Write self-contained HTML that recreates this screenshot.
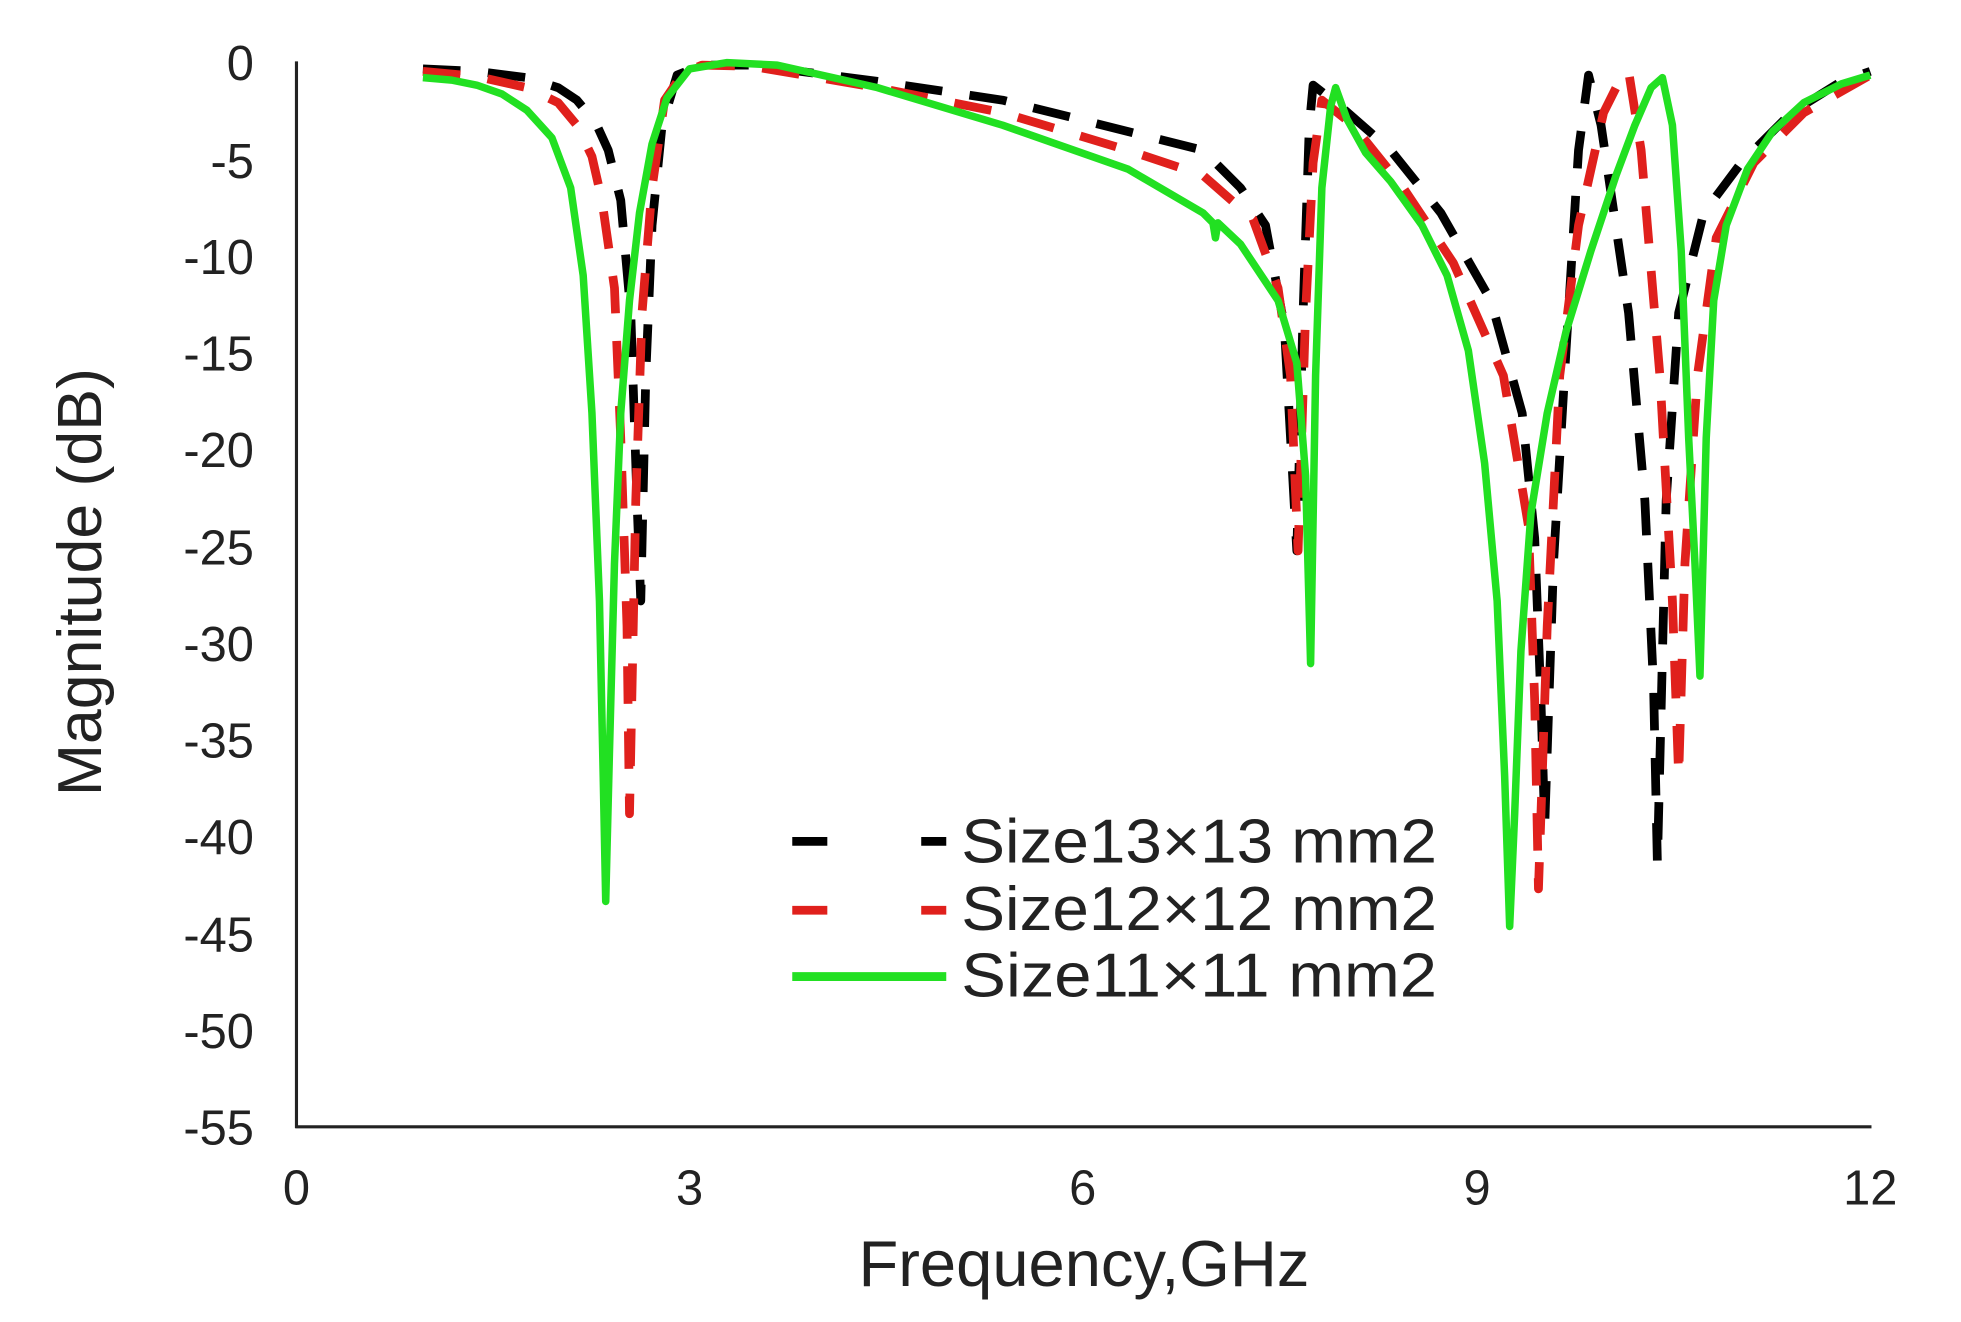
<!DOCTYPE html>
<html><head><meta charset="utf-8"><style>html,body{margin:0;padding:0;background:#fff}svg{display:block}</style></head>
<body>
<svg width="1961" height="1322" viewBox="0 0 1961 1322" xmlns="http://www.w3.org/2000/svg">
<rect width="1961" height="1322" fill="#fff"/>
<g transform="matrix(1.252,0,0,1.252,1,0)" font-family="Liberation Sans, Arial, sans-serif" fill="#222">
<line x1="236" y1="49" x2="236" y2="901" stroke="#222" stroke-width="2.5"/>
<line x1="235" y1="900" x2="1494" y2="900" stroke="#222" stroke-width="2.5"/>
<g font-size="39" text-anchor="end">
<text x="202" y="64">0</text><text x="202" y="142">-5</text><text x="202" y="219">-10</text>
<text x="202" y="296">-15</text><text x="202" y="373">-20</text><text x="202" y="451">-25</text>
<text x="202" y="528">-30</text><text x="202" y="605">-35</text><text x="202" y="682">-40</text>
<text x="202" y="760">-45</text><text x="202" y="837">-50</text><text x="202" y="914">-55</text>
</g>
<g font-size="39" text-anchor="middle">
<text x="236" y="962">0</text><text x="550" y="962">3</text><text x="864" y="962">6</text>
<text x="1179" y="962">9</text><text x="1493" y="962">12</text>
</g>
<text x="865" y="1027" font-size="52" text-anchor="middle">Frequency,GHz</text>
<text transform="translate(80,465) rotate(-90)" font-size="50" text-anchor="middle">Magnitude (dB)</text>
<g fill="none" stroke-linejoin="round">
<polyline stroke="#000" stroke-width="7" stroke-dasharray="30,22" points="337,55 380,57 420,62 445,70 460,80 475,98 485,120 495,160 503,250 508,400 511,480 515,300 520,180 528,100 540,60 560,52 600,52 700,65 800,80 900,105 960,120 990,150 1010,180 1025,260 1030,350 1035,440 1040,250 1045,100 1048,68 1070,85 1110,120 1150,170 1190,240 1215,330 1225,430 1230,560 1233,660 1240,450 1250,280 1260,120 1268,60 1278,100 1300,250 1313,400 1320,550 1323,690 1330,400 1340,250 1360,170 1390,130 1430,90 1470,65 1493,57"/>
<polyline stroke="#e0201c" stroke-width="7" stroke-dasharray="30,22" points="337,57 380,61 420,70 445,82 460,100 472,125 480,160 490,230 495,350 500,500 502,650 507,400 512,250 520,150 530,80 545,58 560,52 600,53 700,70 800,90 900,120 960,140 1000,175 1020,230 1030,300 1036,440 1042,250 1048,130 1055,80 1080,100 1120,150 1160,210 1200,300 1220,420 1225,560 1228,710 1235,500 1245,300 1260,180 1280,90 1295,60 1300,57 1310,120 1325,300 1335,480 1340,620 1345,450 1355,300 1370,190 1400,130 1440,90 1493,60"/>
<polyline stroke="#22e022" stroke-width="6" points="337,62 360,64 380,68 400,75 420,88 440,110 455,150 465,220 472,330 478,480 481,620 483,720 486,600 490,450 495,330 502,240 510,170 520,115 532,78 550,55 580,50 620,52 700,70 800,100 900,135 960,170 968,178 970,190 972,178 990,195 1020,240 1035,290 1042,380 1046,530 1050,300 1055,150 1062,85 1066,70 1075,95 1090,122 1110,145 1135,180 1155,220 1172,280 1185,370 1195,480 1201,620 1205,740 1209,650 1214,520 1222,410 1235,330 1250,265 1270,200 1290,140 1305,100 1318,70 1327,62 1335,100 1342,200 1348,350 1353,450 1357,540 1362,350 1368,240 1378,180 1395,135 1415,105 1440,82 1470,67 1493,60"/>
<line x1="632" y1="672" x2="755" y2="672" stroke="#000" stroke-width="7" stroke-dasharray="28,75"/>
<line x1="632" y1="727" x2="755" y2="727" stroke="#e0201c" stroke-width="7" stroke-dasharray="28,75"/>
<line x1="632" y1="780" x2="755" y2="780" stroke="#22e022" stroke-width="7"/>
</g>
<g font-size="50">
<text x="767" y="689" textLength="380" lengthAdjust="spacingAndGlyphs">Size13×13 mm2</text>
<text x="767" y="743" textLength="380" lengthAdjust="spacingAndGlyphs">Size12×12 mm2</text>
<text x="767" y="796" textLength="380" lengthAdjust="spacingAndGlyphs">Size11×11 mm2</text>
</g>
</g>
</svg>
</body></html>
